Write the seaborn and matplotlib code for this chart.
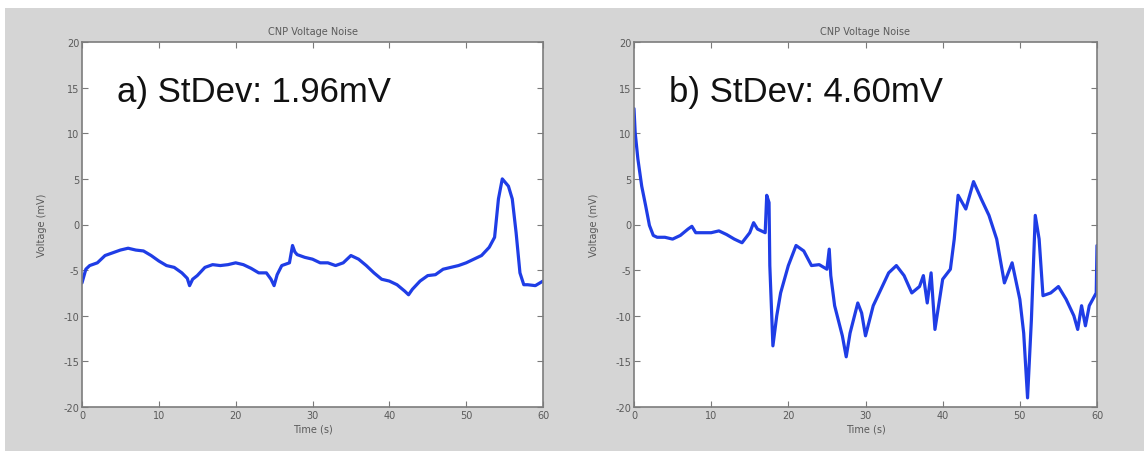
import matplotlib
matplotlib.use("Agg")
import matplotlib.pyplot as plt
import seaborn as sns
import pandas as pd
from matplotlib.patches import Rectangle

# Panel a) time (s) and CNP voltage (mV)
time_a = [0, 0.5, 1, 2, 3, 4, 5, 6, 7, 8, 9, 10, 11, 12, 13, 13.7, 14, 14.4, 15,
          16, 17, 18, 19, 20, 21, 22, 23, 24, 24.6, 25, 25.4, 26, 27, 27.4, 27.7,
          28, 29, 30, 31, 32, 33, 34, 35, 36, 37, 38, 39, 40, 41, 42, 42.5, 43,
          44, 45, 46, 47, 48, 49, 50, 51, 52, 53, 53.7, 54.2, 54.7, 55.5, 56,
          56.5, 57, 57.5, 58, 59, 60]
volt_a = [-6.4, -4.9, -4.5, -4.2, -3.4, -3.1, -2.8, -2.6, -2.8, -2.9, -3.4, -4.0,
          -4.5, -4.7, -5.3, -5.9, -6.7, -6.0, -5.6, -4.7, -4.4, -4.5, -4.4, -4.2,
          -4.4, -4.8, -5.3, -5.3, -6.0, -6.7, -5.5, -4.5, -4.2, -2.3, -3.0, -3.3,
          -3.6, -3.8, -4.2, -4.2, -4.5, -4.2, -3.4, -3.8, -4.5, -5.3, -6.0, -6.2,
          -6.6, -7.3, -7.7, -7.1, -6.2, -5.6, -5.5, -4.9, -4.7, -4.5, -4.2, -3.8,
          -3.4, -2.5, -1.4, 2.8, 5.0, 4.2, 2.8, -0.9, -5.3, -6.6, -6.6, -6.7, -6.2]

# Panel b) time (s) and CNP voltage (mV)
time_b = [0, 0.15, 0.5, 1, 1.5, 2, 2.5, 3, 4, 5, 6, 7, 7.5, 8, 9, 10, 11, 12, 13,
          14, 15, 15.5, 16, 17, 17.2, 17.5, 17.6, 18, 18.5, 19, 20, 21, 22, 23,
          24, 25, 25.3, 25.5, 26, 27, 27.5, 28, 29, 29.5, 30, 31, 32, 33, 34, 35,
          36, 37, 37.5, 38, 38.5, 39, 40, 41, 41.5, 42, 43, 44, 45, 46, 47, 48,
          49, 50, 50.5, 51, 51.5, 52, 52.5, 53, 54, 55, 56, 57, 57.5, 58, 58.5,
          59, 59.9, 60]
volt_b = [12.7, 10.1, 7.2, 4.2, 2.1, -0.1, -1.2, -1.4, -1.4, -1.6, -1.2, -0.5,
          -0.2, -0.9, -0.9, -0.9, -0.7, -1.1, -1.6, -2.0, -0.9, 0.2, -0.5, -0.9,
          3.2, 2.4, -4.5, -13.3, -10.0, -7.5, -4.5, -2.3, -2.9, -4.5, -4.4, -4.9,
          -2.7, -5.6, -8.9, -12.2, -14.5, -11.9, -8.6, -9.7, -12.2, -8.9, -7.1,
          -5.3, -4.5, -5.6, -7.5, -6.8, -5.6, -8.6, -5.3, -11.5, -6.0, -4.9, -1.6,
          3.2, 1.7, 4.7, 2.8, 1.0, -1.6, -6.4, -4.2, -8.2, -11.9, -19.0, -10.4,
          1.0, -1.6, -7.8, -7.5, -6.8, -8.2, -10.0, -11.5, -8.9, -11.1, -8.9,
          -7.5, -2.3]

panel_labels = ["a) StDev: 1.96mV", "b) StDev: 4.60mV"]
title_text = "CNP Voltage Noise"
x_label = "Time (s)"
y_label = "Voltage (mV)"
x_ticks = [0, 10, 20, 30, 40, 50, 60]
y_ticks = [-20, -15, -10, -5, 0, 5, 10, 15, 20]

sns.set_style("ticks")
plt.rcParams["font.family"] = ["DejaVu Sans"]

fig_bg = "#d5d5d5"
tick_grey = "#5a5a5a"
trace_blue = "#1f3de6"

fig = plt.figure(figsize=(11.44, 4.52), dpi=100, facecolor=fig_bg)
# white margin strips along the top and left edges
fig.patches.append(Rectangle((0, 1 - 9 / 452), 1, 9 / 452, transform=fig.transFigure,
                             facecolor="white", edgecolor="none", zorder=0))
fig.patches.append(Rectangle((0, 0), 5 / 1144, 1, transform=fig.transFigure,
                             facecolor="white", edgecolor="none", zorder=0))

ax_a = fig.add_axes([82 / 1144, 1 - 408 / 452, 461 / 1144, 365 / 452])
ax_b = fig.add_axes([634 / 1144, 1 - 408 / 452, 463 / 1144, 365 / 452])

series = [(time_a, volt_a), (time_b, volt_b)]
for ax, (t, v), label in zip([ax_a, ax_b], series, panel_labels):
    df = pd.DataFrame({"time": t, "voltage": v})
    sns.lineplot(data=df, x="time", y="voltage", ax=ax, color=trace_blue,
                 linewidth=2.3, sort=False, estimator=None)
    ax.set_facecolor("white")
    ax.set_xlim(0, 60)
    ax.set_ylim(-20, 20)
    ax.set_xticks(x_ticks)
    ax.set_yticks(y_ticks)
    ax.set_xticklabels([str(x) for x in x_ticks])
    ax.set_yticklabels([str(y) for y in y_ticks])
    ax.tick_params(direction="in", length=4, width=0.8, colors="#7a7a7a",
                   labelcolor=tick_grey, labelsize=7, top=True, right=True,
                   pad=2)
    for sp in ax.spines.values():
        sp.set_visible(True)
        sp.set_color("#7d7d7d")
        sp.set_linewidth(1.2)
    ax.set_title(title_text, fontsize=7, color=tick_grey, pad=6)
    ax.set_xlabel(x_label, fontsize=7, color=tick_grey, labelpad=3)
    ax.set_ylabel(y_label, fontsize=7, color=tick_grey, labelpad=12)
    ax.text(4.6, 15, label, fontsize=25, color="#111111",
            family="Liberation Sans", va="center_baseline", ha="left")

fig.savefig("out.png", dpi=100, facecolor=fig_bg)
